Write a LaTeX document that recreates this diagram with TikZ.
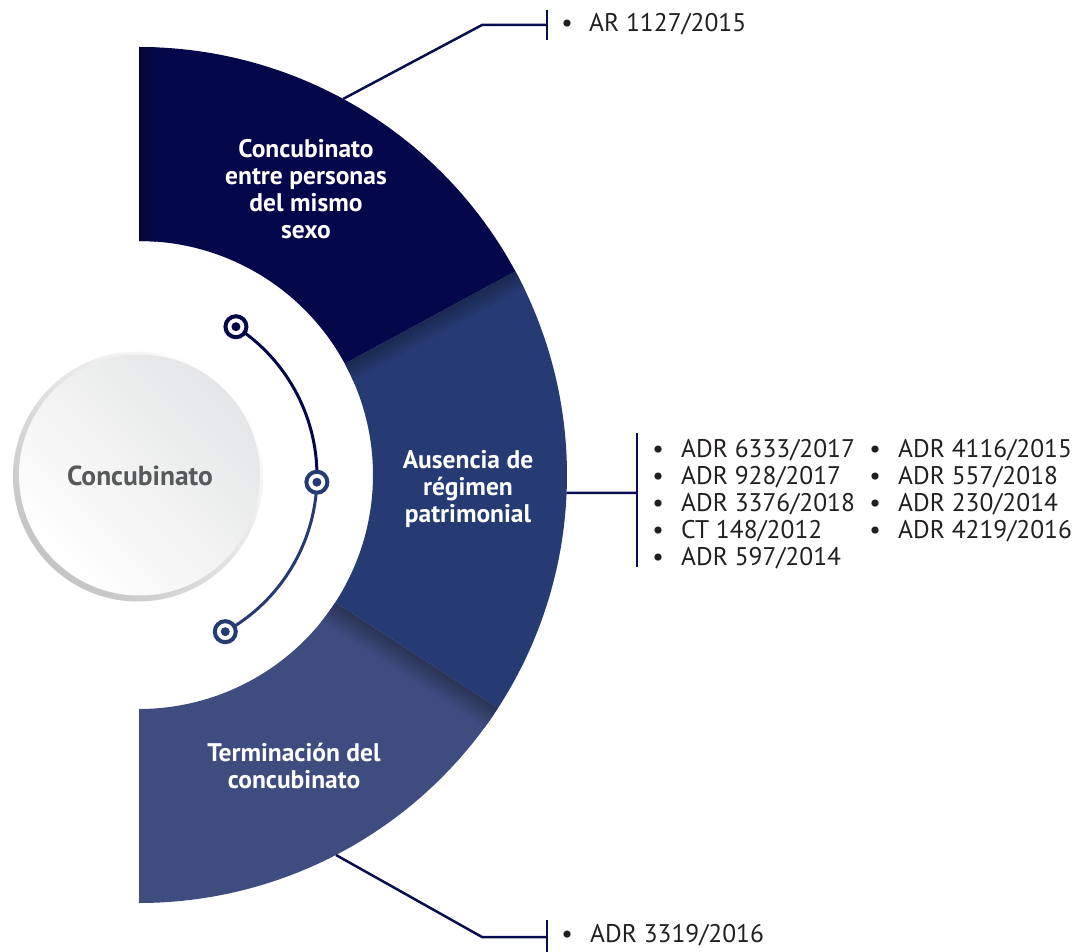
\documentclass[tikz,border=0pt]{standalone}
\usepackage{fontspec}
\setmainfont{PT Sans}
\usetikzlibrary{calc}
\definecolor{segA}{HTML}{05074B}
\definecolor{segB}{HTML}{263B74}
\definecolor{segC}{HTML}{3E4C7F}
\definecolor{lineC}{HTML}{0A0D50}
\definecolor{txt}{HTML}{231F20}
\definecolor{ctr}{HTML}{58595B}
\definecolor{ringG}{HTML}{C4C4C4}
\definecolor{fillG}{HTML}{E4E5E6}
\begin{document}
\begin{tikzpicture}[x=1pt,y=1pt,
  conn/.style={draw=lineC,line width=2.5},
  lbl/.style={anchor=base,inner sep=0,text=white,font=\bfseries\fontsize{25.5}{27}\selectfont},
  item/.style={anchor=base west,inner sep=0,text=txt,font=\fontsize{25.5}{27}\selectfont},
  mk/.style={circle,draw=#1,line width=4,fill=white,minimum size=21,inner sep=0}]
\useasboundingbox (0,0) rectangle (1080,-952);
\coordinate (C) at (139,-475);
\coordinate (A) at (139,-476);
\def\Ro{428}
\def\Ri{234}
% segments
\fill[segA] ($(C)+(90:\Ro)$) arc[start angle=90,end angle=28.4,radius=\Ro]
  -- ($(C)+(28.4:\Ri)$) arc[start angle=28.4,end angle=90,radius=\Ri] -- cycle;
\fill[segB] ($(C)+(28.4:\Ro)$) arc[start angle=28.4,end angle=-33,radius=\Ro]
  -- ($(C)+(-33:\Ri)$) arc[start angle=-33,end angle=28.4,radius=\Ri] -- cycle;
\fill[segC] ($(C)+(-33:\Ro)$) arc[start angle=-33,end angle=-90,radius=\Ro]
  -- ($(C)+(-90:\Ri)$) arc[start angle=-90,end angle=-33,radius=\Ri] -- cycle;
% left edge shading of top segment
\begin{scope}
\clip ($(C)+(90:\Ro)$) arc[start angle=90,end angle=28.4,radius=\Ro]
  -- ($(C)+(28.4:\Ri)$) arc[start angle=28.4,end angle=90,radius=\Ri] -- cycle;
\shade[left color=black!35!segA,right color=segA] (139,-40) rectangle (156,-250);
\end{scope}
% shadows cast on middle and bottom segments
\begin{scope}
\clip ($(C)+(28.4:\Ro)$) arc[start angle=28.4,end angle=-33,radius=\Ro]
  -- ($(C)+(-33:\Ri)$) arc[start angle=-33,end angle=28.4,radius=\Ri] -- cycle;
\begin{scope}[transform canvas={rotate around={28.4:(C)}}]
\shade[top color=black!30!segB,bottom color=segB] ($(C)+(220,0)$) rectangle ($(C)+(440,-20)$);
\end{scope}
\end{scope}
\begin{scope}
\clip ($(C)+(-33:\Ro)$) arc[start angle=-33,end angle=-90,radius=\Ro]
  -- ($(C)+(-90:\Ri)$) arc[start angle=-90,end angle=-33,radius=\Ri] -- cycle;
\begin{scope}[transform canvas={rotate around={-33:(C)}}]
\shade[top color=black!32!segC,bottom color=segC] ($(C)+(220,0)$) rectangle ($(C)+(440,-24)$);
\end{scope}
\end{scope}
% central circle
\shade[top color=white,bottom color=ringG,shading angle=-45] (138,-476.5) circle (125);
\shade[top color=fillG,bottom color=white,shading angle=-45] (139.5,-475) circle (120.5);
\node[inner sep=0,anchor=base,text=ctr,font=\bfseries\fontsize{27.5}{27}\selectfont] (ct) at (140,-485) {Concubinato};
% arc with markers
\draw[segA,line width=3] ($(A)+(57:178)$) arc[start angle=57,end angle=-2,radius=178];
\draw[segB,line width=3] ($(A)+(-2:178)$) arc[start angle=-2,end angle=-61,radius=178];
\node[mk=segA] (k1) at ($(A)+(57:178)$) {};
\node[mk=segB] (k2) at ($(A)+(-2:178)$) {};
\node[mk=segB] (k3) at ($(A)+(-61:178)$) {};
\fill[segA] (k1.center) circle (4.5);
\fill[segB] (k2.center) circle (4.5);
\fill[segB] (k3.center) circle (4.5);
% labels
\node[lbl] (a1) at (306,-158) {Concubinato};
\node[lbl] (a2) at (306,-185) {entre personas};
\node[lbl] (a3) at (306,-212) {del mismo};
\node[lbl] (a4) at (306,-239) {sexo};
\node[lbl] (b1) at (468,-468) {Ausencia de};
\node[lbl] (b2) at (468,-495) {régimen};
\node[lbl] (b3) at (468,-522) {patrimonial};
\node[lbl] (c1) at (294,-761) {Terminación del};
\node[lbl] (c2) at (294,-788) {concubinato};
% connectors
\coordinate (t0) at ($(C)+(61.5:\Ro)$);
\coordinate (t1) at (482,-25);
\coordinate (t2) at (547,-25);
\coordinate (t3) at (547,-10);
\coordinate (t4) at (547,-40);
\draw[conn] (t0) -- (t1) -- (t2);
\draw[conn] (t3) -- (t4);
\coordinate (m0) at ($(C)+(-2.4:\Ro)$);
\coordinate (m1) at (637,-493);
\coordinate (m2) at (637,-433);
\coordinate (m3) at (637,-567);
\draw[conn] (m0) -- (m1);
\draw[conn] (m2) -- (m3);
\coordinate (u0) at ($(C)+(-62.6:\Ro)$);
\coordinate (u1) at (482,-937);
\coordinate (u2) at (547,-937);
\coordinate (u3) at (547,-920);
\coordinate (u4) at (547,-956);
\draw[conn] (u0) -- (u1) -- (u2);
\draw[conn] (u3) -- (u4);
% lists
\node[item] (r0) at (567,-32) {\makebox[0pt]{•}\hspace{22pt}AR 1127/2015};
\node[item] (p1) at (658,-457) {\makebox[0pt]{•}\hspace{23pt}ADR 6333/2017};
\node[item] (p2) at (658,-484) {\makebox[0pt]{•}\hspace{23pt}ADR 928/2017};
\node[item] (p3) at (658,-511) {\makebox[0pt]{•}\hspace{23pt}ADR 3376/2018};
\node[item] (p4) at (658,-538) {\makebox[0pt]{•}\hspace{23pt}CT 148/2012};
\node[item] (p5) at (658,-565) {\makebox[0pt]{•}\hspace{23pt}ADR 597/2014};
\node[item] (q1) at (875,-457) {\makebox[0pt]{•}\hspace{23pt}ADR 4116/2015};
\node[item] (q2) at (875,-484) {\makebox[0pt]{•}\hspace{23pt}ADR 557/2018};
\node[item] (q3) at (875,-511) {\makebox[0pt]{•}\hspace{23pt}ADR 230/2014};
\node[item] (q4) at (875,-538) {\makebox[0pt]{•}\hspace{23pt}ADR 4219/2016};
\node[item] (s0) at (567,-942) {\makebox[0pt]{•}\hspace{23pt}ADR 3319/2016};
\end{tikzpicture}
\end{document}
